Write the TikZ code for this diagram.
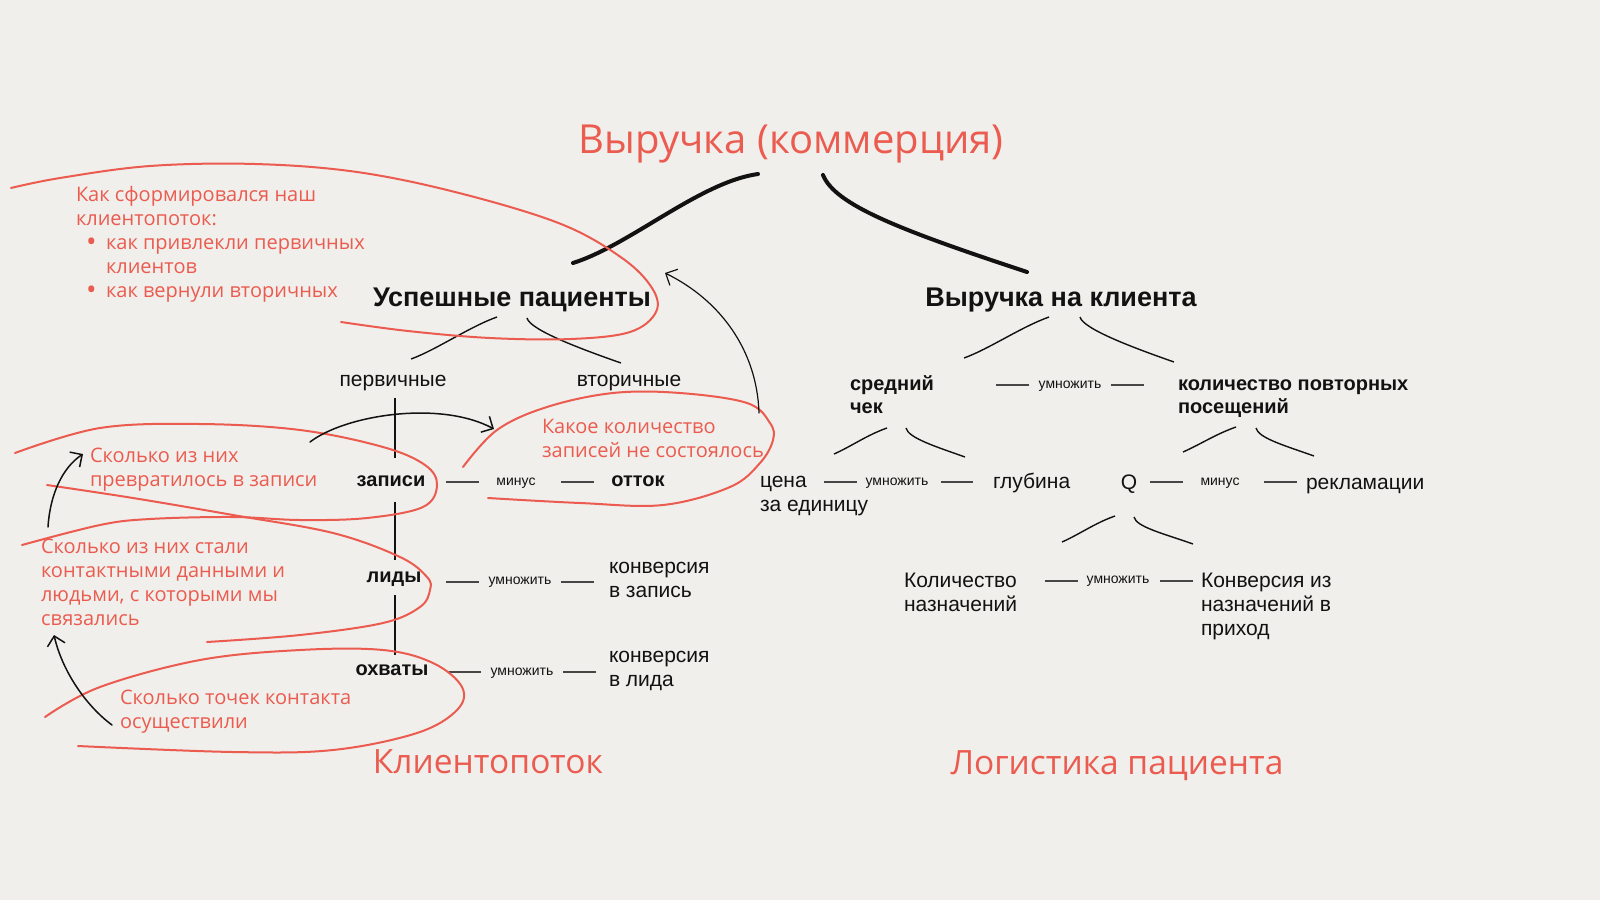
\documentclass[tikz,border=0pt]{standalone}
\usepackage{fontspec}
\setmainfont{Liberation Sans}
\newfontfamily\notefont{Open Sans}
\usetikzlibrary{arrows.meta}
\definecolor{bg}{RGB}{240,239,235}
\definecolor{accent}{RGB}{235,91,79}
\definecolor{ink}{RGB}{18,18,18}
\definecolor{dashc}{RGB}{70,70,70}
\newcommand{\fs}[2]{\fontsize{#1}{#2}\selectfont}
\newcommand{\firstln}{\rule{0pt}{.8em}}
\newcommand{\bigdot}{\makebox[30pt][l]{\hspace*{10pt}\raisebox{-2.5pt}{\fs{28}{24}•}}}
\begin{document}
\begin{tikzpicture}[x=1pt,y=-1pt,
 every node/.style={inner sep=0pt,outer sep=0pt,text=ink},
 reg/.style={font=\fs{21}{24}},
 bld/.style={font=\bfseries\fs{20}{23}},
 big/.style={font=\bfseries\fs{27}{32}},
 tiny/.style={font=\fs{14}{16}},
 note/.style={font=\notefont\fs{20}{24},text=accent},
 head/.style={font=\notefont\fs{40}{46},text=accent},
 foot/.style={font=\notefont\fs{33.5}{40},text=accent},
 ml/.style={anchor=north west,align=left},
 bw/.style={anchor=base west},
 bc/.style={anchor=base},
 dashline/.style={draw=dashc,line width=1.3},
 branch/.style={draw=ink,line width=1.4},
 vline/.style={draw=ink,line width=2.5},
 trunk/.style={draw=ink,line width=4,line cap=round},
 loop/.style={draw=accent,line width=2,line cap=round},
 arr/.style={draw=ink,line width=1.5,line cap=round,-{Straight Barb[length=9pt,width=18pt]}}]
\fill[bg] (0,0) rectangle (1600,900);
\useasboundingbox (0,0) rectangle (1600,900);

% ---------- texts ----------
\node[head,bc] (title) at (791,153) {Выручка (коммерция)};
\node[big,bc] (uspeh) at (512,306) {Успешные пациенты};
\node[big,bc] (vkl) at (1061,306) {Выручка на клиента};
\node[reg,bc] (perv) at (393,386) {первичные};
\node[reg,bc] (vtor) at (629,386) {вторичные};
\node[bld,bc] (zap) at (391,486) {записи};
\node[tiny,bc] (minus1) at (516,485) {минус};
\node[bld,bc] (ottok) at (638,486) {отток};
\node[bld,bc] (lidy) at (394,582) {лиды};
\node[tiny,bc] (umn1) at (520,584) {умножить};
\node[reg,ml] (konvz) at (609,556.2) {\firstln конверсия\\в запись};
\node[bld,bc] (ohv) at (392,675) {охваты};
\node[tiny,bc] (umn2) at (522,675) {умножить};
\node[reg,ml] (konvl) at (609,645.2) {\firstln конверсия\\в лида};
\node[bld,ml] (sred) at (850,374) {\firstln средний\\чек};
\node[tiny,bc] (umn3) at (1070,388) {умножить};
\node[bld,ml] (kolpov) at (1178,374) {\firstln количество повторных\\посещений};
\node[reg,ml] (cena) at (760,470.2) {\firstln цена\\за единицу};
\node[tiny,bc] (umn4) at (897,485) {умножить};
\node[reg,bw] (glub) at (993,488) {глубина};
\node[reg,bc] (q) at (1129,489) {Q};
\node[tiny,bc] (minus2) at (1220,485) {минус};
\node[reg,bw] (rekl) at (1306,489) {рекламации};
\node[reg,ml] (kolnaz) at (904,570.2) {\firstln Количество\\назначений};
\node[tiny,bc] (umn5) at (1118,583) {умножить};
\node[reg,ml] (konvn) at (1201,570.2) {\firstln Конверсия из\\назначений в\\приход};
\node[foot,bc] (klp) at (488,773) {Клиентопоток};
\node[foot,bc] (logp) at (1117,774) {Логистика пациента};

\node[note,ml] (n1) at (76,185) {\firstln Как сформировался наш\\клиентопоток:\\\bigdot как привлекли первичных\\\hspace*{30pt}клиентов\\\bigdot как вернули вторичных};
\node[note,ml] (n2) at (542,417) {\firstln Какое количество\\записей не состоялось};
\node[note,ml] (n3) at (90,446) {\firstln Сколько из них\\превратилось в записи};
\node[note,ml] (n4) at (41,537) {\firstln Сколько из них стали\\контактными данными и\\людьми, с которыми мы\\связались};
\node[note,ml] (n5) at (120,688) {\firstln Сколько точек контакта\\осуществили};

% ---------- trunks ----------
\coordinate (tL1) at (758,174); \coordinate (tL2) at (573,263);
\coordinate (tR1) at (823,175); \coordinate (tR2) at (1027,272);
\draw[trunk] (tL1) .. controls (700,182) and (630,245) .. (tL2);
\draw[trunk] (tR1) .. controls (835,205) and (900,230) .. (tR2);

% ---------- branches ----------
\draw[branch] (497,317) .. controls +(-28,10) and +(25,-9) .. (411,359);
\draw[branch] (527,318) .. controls +(3,12) and +(-40,-14) .. (621,363);
\draw[branch] (1049,317) .. controls +(-28,10) and +(25,-9) .. (964,358);
\draw[branch] (1080,317) .. controls +(3,12) and +(-40,-14) .. (1174,362);
\draw[branch] (887,428) .. controls +(-20,7) and +(18,-8) .. (834,454);
\draw[branch] (906,428) .. controls +(2,10) and +(-28,-10) .. (965,457);
\draw[branch] (1236,427) .. controls +(-20,7) and +(18,-8) .. (1183,452);
\draw[branch] (1256,428) .. controls +(2,10) and +(-28,-10) .. (1314,456);
\draw[branch] (1115,516) .. controls +(-20,7) and +(18,-8) .. (1062,542);
\draw[branch] (1134,517) .. controls +(2,10) and +(-28,-10) .. (1193,544);

% ---------- vertical line ----------
\draw[vline] (395,398) -- (395,458);
\draw[vline] (395,502) -- (395,560);
\draw[vline] (395,595) -- (395,655);

% ---------- dashes ----------
\draw[dashline] (446,482) -- (479,482);  \draw[dashline] (561,482) -- (594,482);
\draw[dashline] (446,582) -- (479,582);  \draw[dashline] (561,582) -- (594,582);
\draw[dashline] (449,672) -- (481,672);  \draw[dashline] (563,672) -- (596,672);
\draw[dashline] (996,385) -- (1029,385); \draw[dashline] (1111,385) -- (1144,385);
\draw[dashline] (824,482) -- (857,482);  \draw[dashline] (941,482) -- (973,482);
\draw[dashline] (1150,482) -- (1183,482); \draw[dashline] (1264,482) -- (1297,482);
\draw[dashline] (1045,581) -- (1078,581); \draw[dashline] (1160,581) -- (1193,581);

% ---------- red loops ----------
\draw[loop] plot[smooth,tension=0.6] coordinates {(11,188) (60,178) (150,166) (255,164) (357,172) (459,193) (561,224) (622,258) (652,288) (656,312) (630,332) (571,339) (490,338) (408,331) (341,322)};
\draw[loop] plot[smooth,tension=0.6] coordinates {(15,453) (100,428) (200,424) (300,430) (383,447) (425,465) (437,485) (423,507) (367,518) (300,520) (233,517) (150,519) (100,525) (22,545)};
\draw[loop] plot[smooth,tension=0.6] coordinates {(47,485) (133,498) (233,515) (333,533) (400,557) (427,577) (430,590) (420,607) (383,623) (300,635) (207,642)};
\draw[loop] plot[smooth,tension=0.6] coordinates {(45,717) (100,687) (200,660) (300,650) (383,650) (433,663) (462,687) (457,710) (417,733) (333,750) (233,752) (78,746)};
\draw[loop] plot[smooth,tension=0.6] coordinates {(463,467) (497,430) (547,407) (613,393) (680,393) (747,403) (770,423) (773,440) (760,463) (730,487) (663,505) (580,503) (488,498)};

% ---------- arrows ----------
\coordinate (a1s) at (48,527);  \coordinate (a1e) at (83,454);
\coordinate (a2s) at (112,725); \coordinate (a2e) at (54,635);
\coordinate (a3s) at (310,442); \coordinate (a3e) at (494,429);
\coordinate (a4s) at (759,413); \coordinate (a4e) at (665,273);
\draw[arr] (a1s) .. controls (50,495) and (62,468) .. (a1e);
\draw[arr] (a2s) .. controls (85,705) and (62,670) .. (a2e);
\draw[arr] (a3s) .. controls (345,415) and (440,400) .. (a3e);
\draw[arr,line width=1.2] (a4s) .. controls (757,350) and (720,300) .. (a4e);
\end{tikzpicture}
\end{document}
